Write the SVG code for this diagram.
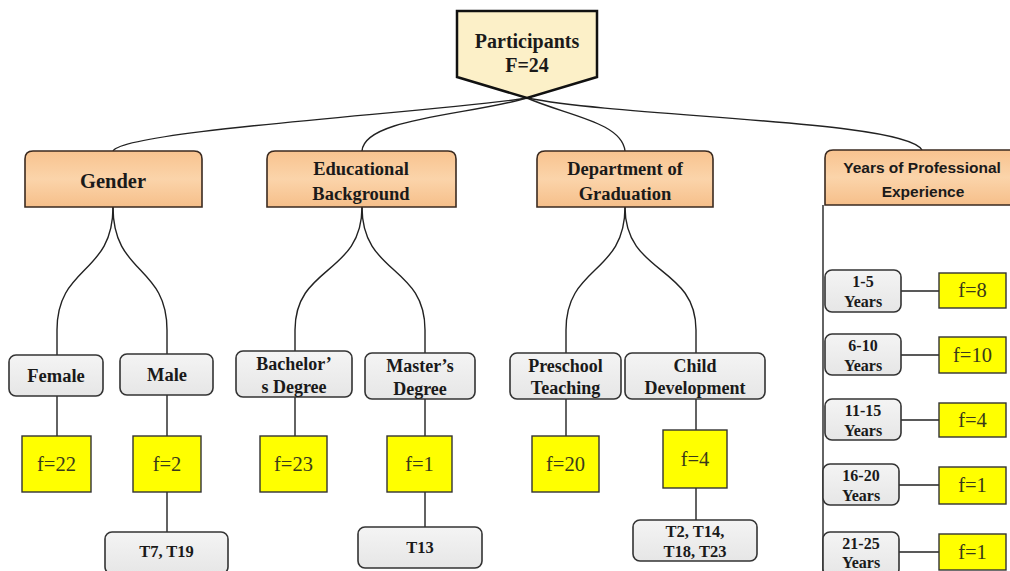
<svg xmlns="http://www.w3.org/2000/svg" width="1010" height="571" viewBox="0 0 1010 571">
<defs>
<linearGradient id="peach" x1="0" y1="0" x2="0" y2="1">
<stop offset="0" stop-color="#f8c38f"/>
<stop offset="0.5" stop-color="#fbd4aa"/>
<stop offset="1" stop-color="#f6bf8a"/>
</linearGradient>
<linearGradient id="gray" x1="0" y1="0" x2="0" y2="1">
<stop offset="0" stop-color="#f4f4f4"/>
<stop offset="1" stop-color="#e6e6e6"/>
</linearGradient>
<style>
.cat{fill:url(#peach);stroke:#3a2a20;stroke-width:1.6}
.sub{fill:url(#gray);stroke:#333;stroke-width:1.6}
.yel{fill:#ffff00;stroke:#333;stroke-width:1.4}
.conn{fill:none;stroke:#222;stroke-width:1.4}
.tb{font-family:"Liberation Serif","Times New Roman",serif;font-weight:bold;fill:#1a1a1a;text-anchor:middle}
.tf{font-family:"Liberation Serif","Times New Roman",serif;font-size:20.5px;fill:#3a3a1a;text-anchor:middle}
.ts{font-family:"Liberation Sans",Arial,sans-serif;font-weight:bold;font-size:15.5px;fill:#1a1a1a;text-anchor:middle}
</style>
</defs>
<rect width="1010" height="571" fill="#ffffff"/>

<g id="connectors">
<path class="conn" d="M527,98 C440,112 125,130 113,151"/>
<path class="conn" d="M527,98 C470,115 364,118 362,151"/>
<path class="conn" d="M527,98 C565,115 622,122 625,151"/>
<path class="conn" d="M527,98 C630,118 905,120 922,150"/>
<path class="conn" d="M113,207 C113,275 57,265 57,330 L57,355"/>
<path class="conn" d="M113,207 C113,275 167,265 167,330 L167,354"/>
<path class="conn" d="M362,207 C362,275 295,265 295,330 L295,351"/>
<path class="conn" d="M362,207 C362,275 425,265 425,330 L425,353"/>
<path class="conn" d="M625,207 C625,275 566,265 566,330 L566,353"/>
<path class="conn" d="M625,207 C625,275 696,265 696,330 L696,353"/>
<path class="conn" d="M57,396 L57,436"/>
<path class="conn" d="M167,395 L167,436 M167,492 L167,532"/>
<path class="conn" d="M295,397 L295,436"/>
<path class="conn" d="M425,399 L425,436 M425,492 L425,527"/>
<path class="conn" d="M566,399 L566,436"/>
<path class="conn" d="M696,399 L696,430 M696,488 L696,520"/>
<path class="conn" d="M823,205 L823,571"/>
<path class="conn" d="M901,291 L939,291"/>
<path class="conn" d="M901,355 L939,355"/>
<path class="conn" d="M901,420 L939,420"/>
<path class="conn" d="M899,485 L939,485"/>
<path class="conn" d="M899,552 L939,552"/>
</g>

<g id="participants">
<polygon points="457,11 597,11 597,77 527,98 457,77" fill="#fcf0c8" stroke="#111" stroke-width="2.5"/>
<text class="tb" x="527" y="48" font-size="20">Participants</text>
<text class="tb" x="527" y="72" font-size="20">F=24</text>
</g>

<g id="gender">
<path class="cat" d="M25,207 L25,159 Q25,151 33,151 L194,151 Q202,151 202,159 L202,207 Z"/>
<text class="tb" x="113" y="188" font-size="20.5">Gender</text>
</g>
<g id="educational">
<path class="cat" d="M267,207 L267,159 Q267,151 275,151 L448,151 Q456,151 456,159 L456,207 Z"/>
<text class="tb" x="361" y="175" font-size="18.5">Educational</text>
<text class="tb" x="361" y="200" font-size="18.5">Background</text>
</g>
<g id="department">
<path class="cat" d="M537,207 L537,159 Q537,151 545,151 L705,151 Q713,151 713,159 L713,207 Z"/>
<text class="tb" x="625" y="175" font-size="18.5">Department of</text>
<text class="tb" x="625" y="200" font-size="18.5">Graduation</text>
</g>
<g id="years">
<path class="cat" d="M825,205 L825,158 Q825,150 833,150 L1014,150 L1014,205 Z"/>
<text class="ts" x="922" y="173">Years of Professional</text>
<text class="ts" x="923" y="197">Experience</text>
</g>

<g id="female">
<rect class="sub" x="9" y="355" width="94" height="41" rx="7"/>
<text class="tb" x="56" y="382" font-size="18.5">Female</text>
</g>
<g id="male">
<rect class="sub" x="120" y="354" width="93" height="41" rx="7"/>
<text class="tb" x="167" y="381" font-size="18.5">Male</text>
</g>
<g id="f22"><rect class="yel" x="22" y="436" width="69" height="56"/><text class="tf" x="56.5" y="471">f=22</text></g>
<g id="f2"><rect class="yel" x="133" y="436" width="68" height="56"/><text class="tf" x="167" y="471">f=2</text></g>
<g id="t7t19">
<rect class="sub" x="105" y="532" width="123" height="42" rx="7"/>
<text class="tb" x="166.5" y="557" font-size="16.5">T7, T19</text>
</g>

<g id="bachelors">
<rect class="sub" x="236" y="351" width="116" height="46" rx="7"/>
<text class="tb" x="294" y="370" font-size="18">Bachelor’</text>
<text class="tb" x="294" y="393" font-size="18">s Degree</text>
</g>
<g id="masters">
<rect class="sub" x="365" y="353" width="110" height="46" rx="7"/>
<text class="tb" x="420" y="372" font-size="18">Master’s</text>
<text class="tb" x="420" y="395" font-size="18">Degree</text>
</g>
<g id="f23"><rect class="yel" x="260" y="436" width="67" height="56"/><text class="tf" x="293.5" y="471">f=23</text></g>
<g id="f1"><rect class="yel" x="387" y="436" width="65" height="56"/><text class="tf" x="419.5" y="471">f=1</text></g>
<g id="t13">
<rect class="sub" x="358" y="527" width="124" height="41" rx="7"/>
<text class="tb" x="420" y="553" font-size="16.5">T13</text>
</g>

<g id="preschool">
<rect class="sub" x="510" y="353" width="111" height="46" rx="7"/>
<text class="tb" x="565.5" y="372" font-size="18">Preschool</text>
<text class="tb" x="565.5" y="394" font-size="18">Teaching</text>
</g>
<g id="childdev">
<rect class="sub" x="625" y="353" width="140" height="46" rx="7"/>
<text class="tb" x="695" y="372" font-size="18">Child</text>
<text class="tb" x="695" y="394" font-size="18">Development</text>
</g>
<g id="f20"><rect class="yel" x="532" y="436" width="67" height="56"/><text class="tf" x="565.5" y="471">f=20</text></g>
<g id="f4"><rect class="yel" x="663" y="430" width="64" height="58"/><text class="tf" x="695" y="466">f=4</text></g>
<g id="t2list">
<rect class="sub" x="633" y="520" width="124" height="41" rx="7"/>
<text class="tb" x="695" y="537" font-size="16.5">T2, T14,</text>
<text class="tb" x="695" y="557" font-size="16.5">T18, T23</text>
</g>

<g id="y1-5">
<rect class="sub" x="825" y="270" width="76" height="42" rx="7"/>
<text class="tb" x="863" y="287" font-size="16">1-5</text>
<text class="tb" x="863" y="307" font-size="16">Years</text>
</g>
<g id="f8"><rect class="yel" x="939" y="273" width="67" height="35"/><text class="tf" x="972.5" y="297">f=8</text></g>
<g id="y6-10">
<rect class="sub" x="825" y="334" width="76" height="41" rx="7"/>
<text class="tb" x="863" y="351" font-size="16">6-10</text>
<text class="tb" x="863" y="371" font-size="16">Years</text>
</g>
<g id="f10"><rect class="yel" x="939" y="337" width="67" height="36"/><text class="tf" x="972.5" y="362">f=10</text></g>
<g id="y11-15">
<rect class="sub" x="825" y="399" width="76" height="41" rx="7"/>
<text class="tb" x="863" y="416" font-size="16">11-15</text>
<text class="tb" x="863" y="436" font-size="16">Years</text>
</g>
<g id="f4b"><rect class="yel" x="939" y="403" width="67" height="34"/><text class="tf" x="972.5" y="427">f=4</text></g>
<g id="y16-20">
<rect class="sub" x="823" y="464" width="76" height="41" rx="7"/>
<text class="tb" x="861" y="481" font-size="16">16-20</text>
<text class="tb" x="861" y="501" font-size="16">Years</text>
</g>
<g id="f1b"><rect class="yel" x="939" y="467" width="67" height="37"/><text class="tf" x="972.5" y="492">f=1</text></g>
<g id="y21-25">
<rect class="sub" x="823" y="532" width="76" height="44" rx="7"/>
<text class="tb" x="861" y="549" font-size="16">21-25</text>
<text class="tb" x="861" y="568" font-size="16">Years</text>
</g>
<g id="f1c"><rect class="yel" x="939" y="534" width="67" height="36"/><text class="tf" x="972.5" y="559">f=1</text></g>
</svg>
